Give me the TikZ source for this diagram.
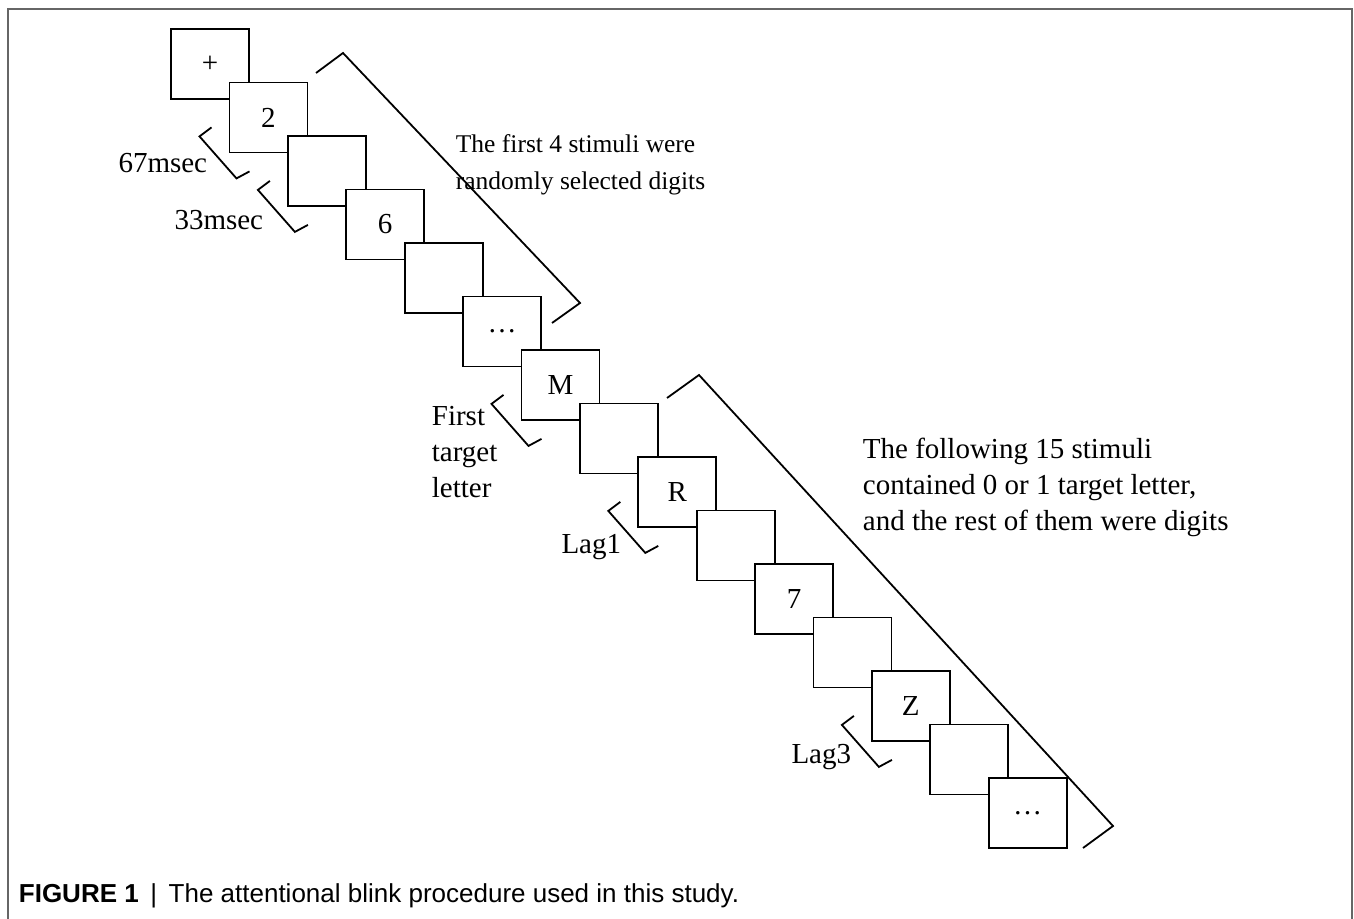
\documentclass[tikz,border=0pt]{standalone}
\usepackage{fontspec}
\setmainfont{Liberation Serif}
\newfontfamily\capfont{Liberation Sans}
\begin{document}
\begin{tikzpicture}[x=1pt, y=-1pt, line width=1.8pt, draw=black,
	frame/.style={draw, fill=white, minimum width=78pt, minimum height=70pt, inner sep=0pt},
	txt/.style={font=\fontsize{29}{36}\selectfont, inner sep=0pt}]
	\useasboundingbox (0,0) rectangle (1354,918);
	\draw[black!60, line width=1.5pt] (8,930) -- (8,9) -- (1352,9) -- (1352,930);
	% stimulus stream
	\node[frame, txt] (s0)  at (210,64)     {+};
	\node[frame, txt] (s1)  at (268.4,117.5) {2};
	\node[frame, txt] (s2)  at (326.8,171)  {};
	\node[frame, txt] (s3)  at (385.2,224.5) {6};
	\node[frame, txt] (s4)  at (443.6,278)  {};
	\node[frame, txt] (s5)  at (502,331.5)  {\dots};
	\node[frame, txt] (s6)  at (560.4,385)  {M};
	\node[frame, txt] (s7)  at (618.8,438.5) {};
	\node[frame, txt] (s8)  at (677.2,492)  {R};
	\node[frame, txt] (s9)  at (735.6,545.5) {};
	\node[frame, txt] (s10) at (794,599)    {7};
	\node[frame, txt] (s11) at (852.4,652.5) {};
	\node[frame, txt] (s12) at (910.8,706)  {Z};
	\node[frame, txt] (s13) at (969.2,759.5) {};
	\node[frame, txt] (s14) at (1027.6,813) {\dots};
	% big brackets
	\draw (316,73) -- (343,53) -- (580,303) -- (552,323);
	\draw (667,398) -- (699,375) -- (1113,826) -- (1083,848);
	% small brackets
	\draw ([shift={(-17,-26)}]s1.south west)  -- ++(-12,9) -- ++(37,42) -- ++(13,-7);
	\draw ([shift={(-17,-26)}]s2.south west)  -- ++(-12,9) -- ++(37,42) -- ++(13,-7);
	\draw ([shift={(-17,-26)}]s6.south west)  -- ++(-12,9) -- ++(37,42) -- ++(13,-7);
	\draw ([shift={(-17,-26)}]s8.south west)  -- ++(-12,9) -- ++(37,42) -- ++(13,-7);
	\draw ([shift={(-17,-26)}]s12.south west) -- ++(-12,9) -- ++(37,42) -- ++(13,-7);
	% labels
	\node[txt, anchor=east] (d67) at (208,163) {67msec};
	\node[txt, anchor=east] (d33) at (264,220) {33msec};
	\node[txt, anchor=west, align=left] (first) at (431,452) {First\\target\\letter};
	\node[txt, anchor=east] (lag1) at (622,547) {Lag1};
	\node[txt, anchor=east] (lag3) at (852,757) {Lag3};
	\node[txt, anchor=west, align=left, font=\fontsize{25.5}{37}\selectfont] (note1) at (455,164.5)
		{The first 4 stimuli were\\randomly selected digits};
	\node[txt, anchor=west, align=left] (note2) at (862,487.5)
		{The following 15 stimuli\\contained 0 or 1 target letter,\\and the rest of them were digits};
	\node[anchor=west, inner sep=0pt, font=\capfont\fontsize{26}{30}\selectfont] (cap) at (18,896)
		{\textbf{FIGURE 1}\, | \,The attentional blink procedure used in this study.};
\end{tikzpicture}
\end{document}
